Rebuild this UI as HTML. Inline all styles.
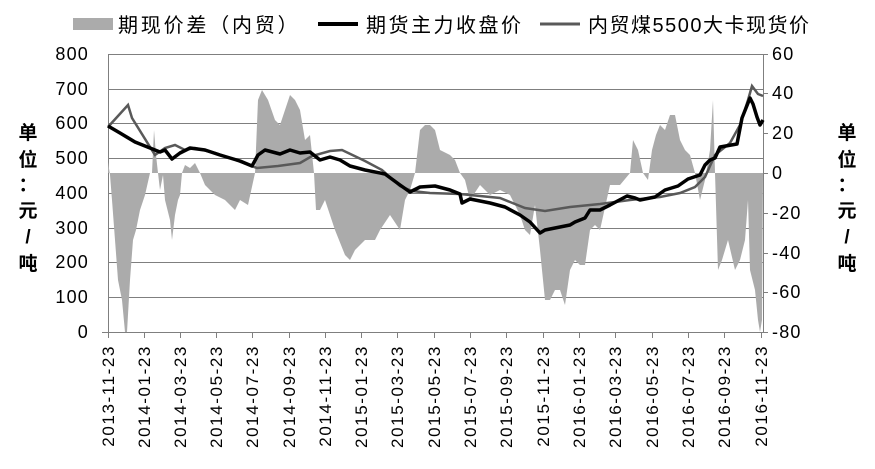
<!DOCTYPE html>
<html><head><meta charset="utf-8"><style>
body{margin:0;background:#fff}
svg text{font-family:"Liberation Sans","Noto Sans CJK SC",sans-serif;fill:#000}
</style></head><body>
<svg width="875" height="464" viewBox="0 0 875 464" xmlns="http://www.w3.org/2000/svg">
<!-- legend -->
<rect x="73" y="18" width="40" height="12" fill="#ababab"/>
<text x="118" y="32" font-size="20" letter-spacing="2.8">期现价差（内贸）</text>
<line x1="318" y1="24" x2="358" y2="24" stroke="#000" stroke-width="4"/>
<text x="366" y="32" font-size="20" letter-spacing="2.5">期货主力收盘价</text>
<line x1="540" y1="24" x2="580" y2="24" stroke="#595959" stroke-width="3"/>
<text x="588" y="32" font-size="20" letter-spacing="1.5">内贸煤5500大卡现货价</text>
<!-- grid -->
<g stroke="#7f7f7f" stroke-width="1">
<line x1="108" y1="54.5" x2="763" y2="54.5"/>
<line x1="108" y1="89.5" x2="763" y2="89.5"/>
<line x1="108" y1="123.5" x2="763" y2="123.5"/>
<line x1="108" y1="158.5" x2="763" y2="158.5"/>
<line x1="108" y1="193.5" x2="763" y2="193.5"/>
<line x1="108" y1="228.5" x2="763" y2="228.5"/>
<line x1="108" y1="262.5" x2="763" y2="262.5"/>
<line x1="108" y1="297.5" x2="763" y2="297.5"/>
<line x1="102" y1="332.5" x2="763" y2="332.5"/>
<line x1="108.5" y1="54" x2="108.5" y2="332"/>
<line x1="763.5" y1="54" x2="763.5" y2="332"/>
</g>
<!-- area -->
<polygon fill="#ababab" points="108,173 108,162 110,175 112,200 115,240 118,280 122,300 125,332 127,332 130,280 133,240 136,230 140,210 145,195 150,173 152,173 154,130 156,155 158,173 160,190 163,175 165,200 170,220 172,240 175,215 178,200 180,195 182,173 185,165 190,168 195,163 200,173 205,185 215,195 225,200 230,205 235,210 240,200 248,205 255,173 258,100 262,90 268,100 275,120 280,125 285,110 290,95 295,100 300,110 305,140 310,135 314,173 316,210 320,210 325,200 335,230 345,255 350,260 355,250 365,240 375,240 380,230 390,215 400,230 405,200 410,190 415,173 420,130 425,125 430,125 435,130 440,150 450,155 455,160 460,173 465,180 470,200 480,185 490,195 500,190 510,195 520,215 525,230 530,235 535,205 540,250 545,300 550,300 555,290 560,290 565,305 570,270 575,260 580,265 585,265 590,230 595,225 600,230 610,185 620,185 630,173 633,140 638,150 643,173 648,180 652,150 656,135 660,125 665,130 670,115 675,115 680,140 685,150 690,155 695,173 700,200 705,180 710,150 713,100 715,173 718,270 722,260 728,240 735,270 740,260 745,240 748,200 750,270 755,290 758,320 760,332 762,320 763,173"/>
<!-- spot -->
<polyline fill="none" stroke="#595959" stroke-width="2.5" points="108,127 128,105 132,118 155,155 165,148 175,145 185,150 195,148 215,153 230,158 257,168 278,166 300,163 312,156 330,151 342,150 365,161 382,170 400,186 412,191 430,193 460,194 500,198 525,208 545,211 570,207 600,204 630,200 660,197 680,193 695,187 705,177 715,155 730,143 740,125 748,100 752,86 758,94 763,96"/>
<!-- futures -->
<polyline fill="none" stroke="#000" stroke-width="3.5" stroke-linejoin="round" points="108,126 120,133 135,142 150,148 160,152 165,150 172,159 180,153 190,148 205,150 220,155 240,161 252,166 258,155 265,150 280,154 290,150 300,153 310,152 320,160 330,157 340,160 350,166 365,170 385,174 400,185 410,192 420,187 435,186 450,190 460,194 462,203 470,199 490,203 505,207 520,215 530,222 540,233 545,230 555,228 570,225 575,222 585,218 590,210 600,210 610,205 627,196 635,198 640,200 655,197 665,190 678,186 688,179 700,175 705,165 710,160 715,158 720,147 737,144 742,118 750,98 753,104 757,117 760,125 763,120"/>
<!-- ticks -->
<g stroke="#7f7f7f">
<path d="M108.5 332v6M144.5 332v6M180.5 332v6M216.5 332v6M252.5 332v6M289.5 332v6M325.5 332v6M361.5 332v6M397.5 332v6M434.5 332v6M470.5 332v6M506.5 332v6M543.5 332v6M579.5 332v6M615.5 332v6M652.5 332v6M688.5 332v6M724.5 332v6M761.5 332v6"/>
<path d="M763 54.5h5M763 93.5h5M763 133.5h5M763 173.5h5M763 213.5h5M763 253.5h5M763 292.5h5M763 332.5h5"/>
</g>
<!-- left labels -->
<g font-size="18" text-anchor="end" letter-spacing="1.2">
<text x="89" y="60">800</text><text x="89" y="95">700</text><text x="89" y="129">600</text><text x="89" y="164">500</text><text x="89" y="199">400</text><text x="89" y="234">300</text><text x="89" y="268">200</text><text x="89" y="303">100</text><text x="89" y="338">0</text>
</g>
<g font-size="18" text-anchor="start" letter-spacing="1.2">
<text x="772" y="60">60</text><text x="772" y="99">40</text><text x="772" y="139">20</text><text x="772" y="179">0</text><text x="772" y="219">-20</text><text x="772" y="259">-40</text><text x="772" y="298">-60</text><text x="772" y="338">-80</text>
</g>
<g font-size="19" font-weight="bold" text-anchor="middle">
<text x="28" y="139">单</text><text x="28" y="166">位</text><text x="28" y="191">：</text><text x="28" y="217">元</text><text x="28" y="243">/</text><text x="28" y="270">吨</text>
<text x="847" y="139">单</text><text x="847" y="166">位</text><text x="847" y="191">：</text><text x="847" y="217">元</text><text x="847" y="243">/</text><text x="847" y="270">吨</text>
</g>
<g font-size="17" text-anchor="end" letter-spacing="1.6">
<text transform="translate(114,345) rotate(-90)">2013-11-23</text>
<text transform="translate(150,345) rotate(-90)">2014-01-23</text>
<text transform="translate(186,345) rotate(-90)">2014-03-23</text>
<text transform="translate(222,345) rotate(-90)">2014-05-23</text>
<text transform="translate(258,345) rotate(-90)">2014-07-23</text>
<text transform="translate(295,345) rotate(-90)">2014-09-23</text>
<text transform="translate(331,345) rotate(-90)">2014-11-23</text>
<text transform="translate(367,345) rotate(-90)">2015-01-23</text>
<text transform="translate(403,345) rotate(-90)">2015-03-23</text>
<text transform="translate(440,345) rotate(-90)">2015-05-23</text>
<text transform="translate(476,345) rotate(-90)">2015-07-23</text>
<text transform="translate(512,345) rotate(-90)">2015-09-23</text>
<text transform="translate(549,345) rotate(-90)">2015-11-23</text>
<text transform="translate(585,345) rotate(-90)">2016-01-23</text>
<text transform="translate(621,345) rotate(-90)">2016-03-23</text>
<text transform="translate(658,345) rotate(-90)">2016-05-23</text>
<text transform="translate(694,345) rotate(-90)">2016-07-23</text>
<text transform="translate(730,345) rotate(-90)">2016-09-23</text>
<text transform="translate(767,345) rotate(-90)">2016-11-23</text>
</g>
</svg>
</body></html>
